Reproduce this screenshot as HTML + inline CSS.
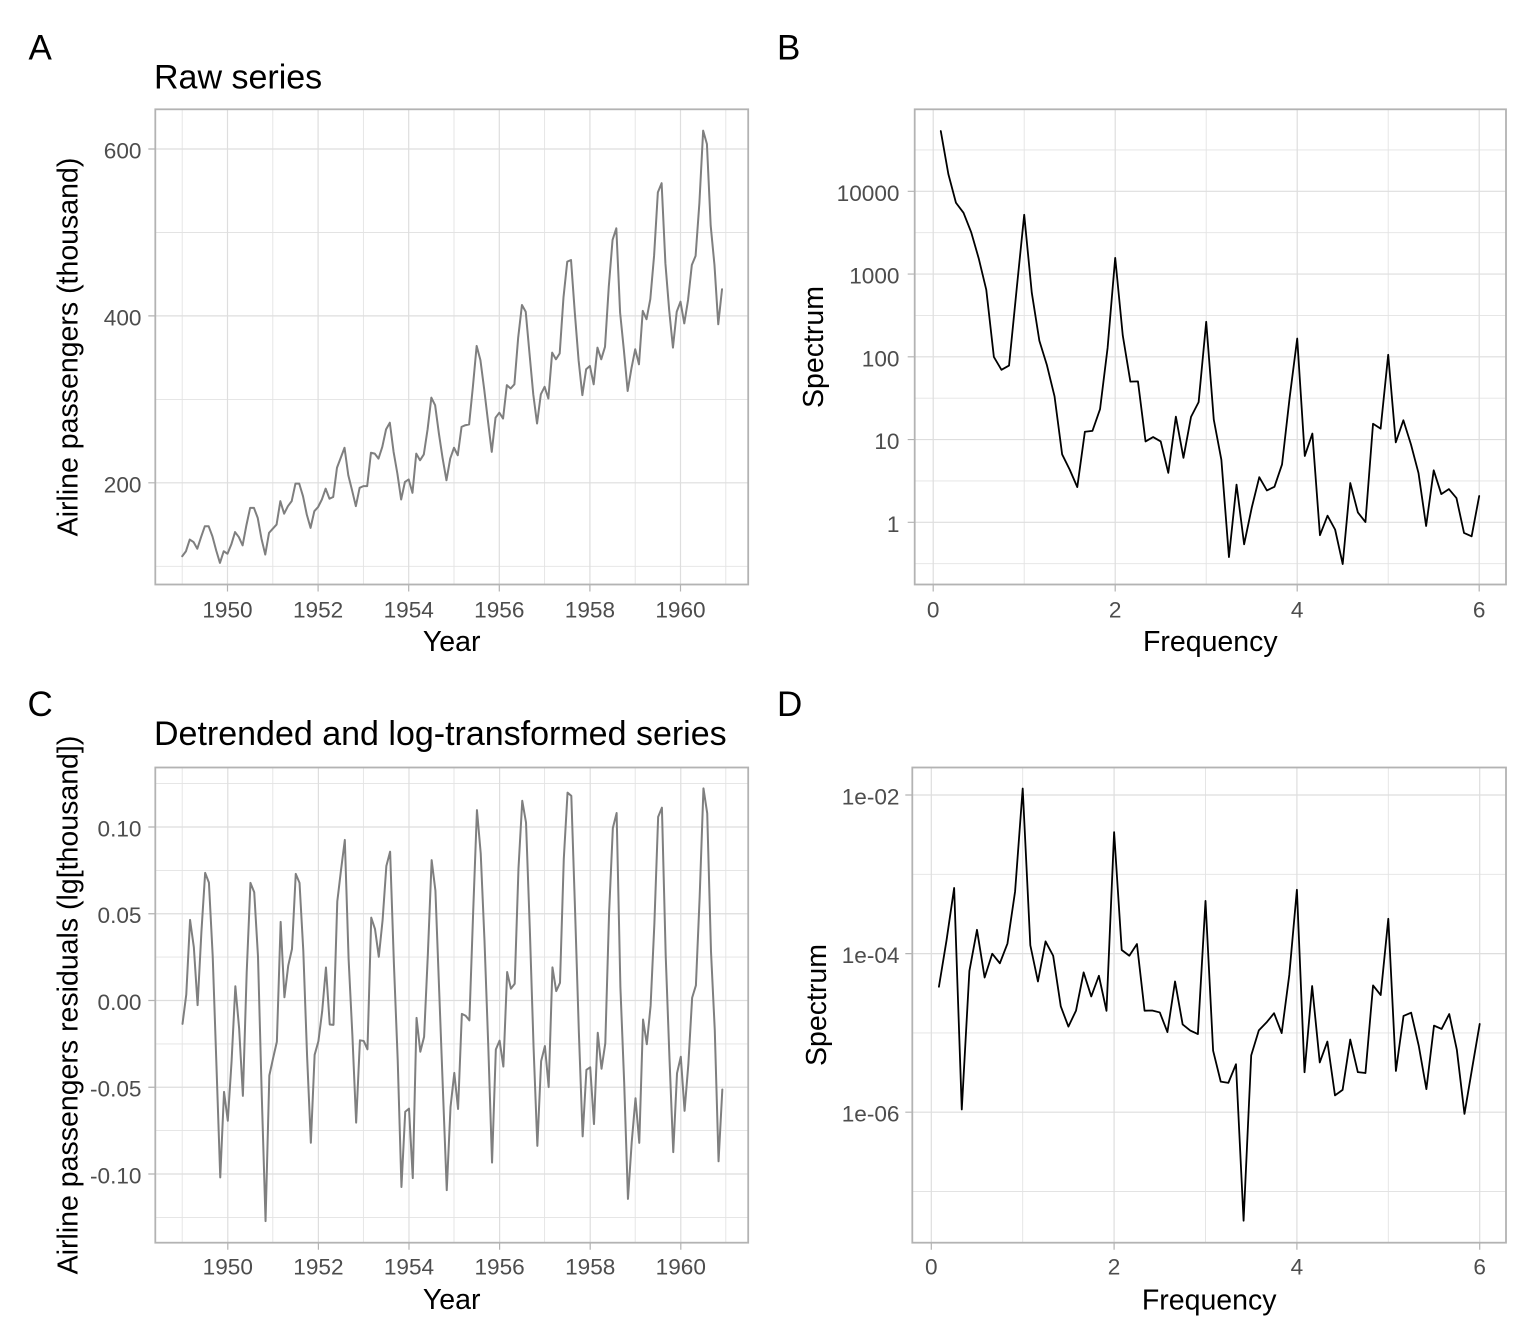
<!DOCTYPE html>
<html>
<head>
<meta charset="utf-8">
<style>
html,body{margin:0;padding:0;background:#fff;}
svg{display:block;}
text{font-family:"Liberation Sans",Arial,sans-serif;}
.tk{font-size:22.6px;fill:#4d4d4d;}
.at{font-size:28.5px;fill:#000;}
.tt{font-size:34px;fill:#000;}
.pl{font-size:35px;fill:#000;}
.gM{stroke:#dedede;stroke-width:1.2;fill:none;}
.gm{stroke:#e3e3e3;stroke-width:0.9;fill:none;}
.bd{stroke:#b3b3b3;stroke-width:1.8;fill:none;}
.tm{stroke:#b3b3b3;stroke-width:1.2;}
</style>
</head>
<body>
<svg id="s" width="1536" height="1344" viewBox="0 0 1536 1344" xmlns="http://www.w3.org/2000/svg">
<rect x="0" y="0" width="1536" height="1344" fill="#fff"/>

<!-- ================= Panel A ================= -->
<g>
<path class="gm" d="M182.2 109.3V584.5M272.8 109.3V584.5M363.4 109.3V584.5M454 109.3V584.5M544.6 109.3V584.5M635.2 109.3V584.5M725.8 109.3V584.5
M155.3 566.3H748.2M155.3 399.4H748.2M155.3 232.5H748.2"/>
<path class="gM" d="M227.5 109.3V584.5M318.1 109.3V584.5M408.7 109.3V584.5M499.3 109.3V584.5M589.9 109.3V584.5M680.5 109.3V584.5
M155.3 482.8H748.2M155.3 315.9H748.2M155.3 149H748.2"/>
<path id="pA" fill="none" stroke="#7f7f7f" stroke-width="2" stroke-linejoin="round" stroke-linecap="round" d=""/>
<rect class="bd" x="155.3" y="109.3" width="592.9" height="475.2"/>
<path class="tm" d="M148.3 482.8H155.3M148.3 315.9H155.3M148.3 149H155.3
M227.5 584.5V591.5M318.1 584.5V591.5M408.7 584.5V591.5M499.3 584.5V591.5M589.9 584.5V591.5M680.5 584.5V591.5"/>
<text class="tk" text-anchor="end" x="141.5" y="492.3">200</text>
<text class="tk" text-anchor="end" x="141.5" y="325.4">400</text>
<text class="tk" text-anchor="end" x="141.5" y="158.5">600</text>
<text class="tk" text-anchor="middle" x="227.5" y="617.5">1950</text>
<text class="tk" text-anchor="middle" x="318.1" y="617.5">1952</text>
<text class="tk" text-anchor="middle" x="408.7" y="617.5">1954</text>
<text class="tk" text-anchor="middle" x="499.3" y="617.5">1956</text>
<text class="tk" text-anchor="middle" x="589.9" y="617.5">1958</text>
<text class="tk" text-anchor="middle" x="680.5" y="617.5">1960</text>
<text class="at" text-anchor="middle" x="451.7" y="651">Year</text>
<text class="at" text-anchor="middle" transform="translate(77.5,347) rotate(-90)">Airline passengers (thousand)</text>
<text class="tt" x="154" y="88.3">Raw series</text>
<text class="pl" x="28.5" y="59.3">A</text>
</g>

<!-- ================= Panel B ================= -->
<g>
<path class="gm" d="M1024.2 109.3V584.5M1206.2 109.3V584.5M1388.2 109.3V584.5
M914.7 563.7H1506M914.7 480.9H1506M914.7 398.2H1506M914.7 315.4H1506M914.7 232.7H1506M914.7 149.9H1506"/>
<path class="gM" d="M933.2 109.3V584.5M1115.2 109.3V584.5M1297.2 109.3V584.5M1479.2 109.3V584.5
M914.7 522.3H1506M914.7 439.55H1506M914.7 356.8H1506M914.7 274.05H1506M914.7 191.3H1506"/>
<path id="pB" fill="none" stroke="#000" stroke-width="1.8" stroke-linejoin="round" stroke-linecap="round" d=""/>
<rect class="bd" x="914.7" y="109.3" width="591.3" height="475.2"/>
<path class="tm" d="M907.7 522.3H914.7M907.7 439.55H914.7M907.7 356.8H914.7M907.7 274.05H914.7M907.7 191.3H914.7
M933.2 584.5V591.5M1115.2 584.5V591.5M1297.2 584.5V591.5M1479.2 584.5V591.5"/>
<text class="tk" text-anchor="end" x="899.5" y="531.8">1</text>
<text class="tk" text-anchor="end" x="899.5" y="449">10</text>
<text class="tk" text-anchor="end" x="899.5" y="366.3">100</text>
<text class="tk" text-anchor="end" x="899.5" y="283.5">1000</text>
<text class="tk" text-anchor="end" x="899.5" y="200.8">10000</text>
<text class="tk" text-anchor="middle" x="933.2" y="617.5">0</text>
<text class="tk" text-anchor="middle" x="1115.2" y="617.5">2</text>
<text class="tk" text-anchor="middle" x="1297.2" y="617.5">4</text>
<text class="tk" text-anchor="middle" x="1479.2" y="617.5">6</text>
<text class="at" text-anchor="middle" x="1210.3" y="651">Frequency</text>
<text class="at" text-anchor="middle" transform="translate(823,347) rotate(-90)">Spectrum</text>
<text class="pl" x="777" y="59.3">B</text>
</g>

<!-- ================= Panel C ================= -->
<g>
<path class="gm" d="M182.2 767.5V1242.7M272.8 767.5V1242.7M363.4 767.5V1242.7M454 767.5V1242.7M544.6 767.5V1242.7M635.2 767.5V1242.7M725.8 767.5V1242.7
M155.3 783.6H748.2M155.3 870.4H748.2M155.3 957.1H748.2M155.3 1043.9H748.2M155.3 1130.6H748.2M155.3 1217.4H748.2"/>
<path class="gM" d="M227.8 767.5V1242.7M318.4 767.5V1242.7M409 767.5V1242.7M499.6 767.5V1242.7M590.2 767.5V1242.7M680.8 767.5V1242.7
M155.3 827H748.2M155.3 913.75H748.2M155.3 1000.5H748.2M155.3 1087.25H748.2M155.3 1174H748.2"/>
<path id="pC" fill="none" stroke="#7f7f7f" stroke-width="2" stroke-linejoin="round" stroke-linecap="round" d=""/>
<rect class="bd" x="155.3" y="767.5" width="592.9" height="475.2"/>
<path class="tm" d="M148.3 827H155.3M148.3 913.75H155.3M148.3 1000.5H155.3M148.3 1087.25H155.3M148.3 1174H155.3
M227.8 1242.7V1249.7M318.4 1242.7V1249.7M409 1242.7V1249.7M499.6 1242.7V1249.7M590.2 1242.7V1249.7M680.8 1242.7V1249.7"/>
<text class="tk" text-anchor="end" x="141.5" y="836.5">0.10</text>
<text class="tk" text-anchor="end" x="141.5" y="923.2">0.05</text>
<text class="tk" text-anchor="end" x="141.5" y="1010">0.00</text>
<text class="tk" text-anchor="end" x="141.5" y="1096.7">-0.05</text>
<text class="tk" text-anchor="end" x="141.5" y="1183.5">-0.10</text>
<text class="tk" text-anchor="middle" x="227.8" y="1274.7">1950</text>
<text class="tk" text-anchor="middle" x="318.4" y="1274.7">1952</text>
<text class="tk" text-anchor="middle" x="409" y="1274.7">1954</text>
<text class="tk" text-anchor="middle" x="499.6" y="1274.7">1956</text>
<text class="tk" text-anchor="middle" x="590.2" y="1274.7">1958</text>
<text class="tk" text-anchor="middle" x="680.8" y="1274.7">1960</text>
<text class="at" text-anchor="middle" x="451.7" y="1309.2">Year</text>
<text class="at" text-anchor="middle" transform="translate(77.5,1005) rotate(-90)">Airline passengers residuals (lg[thousand])</text>
<text class="tt" x="154" y="745">Detrended and log-transformed series</text>
<text class="pl" x="27.5" y="716">C</text>
</g>

<!-- ================= Panel D ================= -->
<g>
<path class="gm" d="M1022.7 767.5V1242.7M1205.5 767.5V1242.7M1388.3 767.5V1242.7
M912.3 874.3H1506M912.3 1032.9H1506M912.3 1191.5H1506"/>
<path class="gM" d="M931.3 767.5V1242.7M1114.1 767.5V1242.7M1296.9 767.5V1242.7M1479.7 767.5V1242.7
M912.3 795H1506M912.3 953.6H1506M912.3 1112.2H1506"/>
<path id="pD" fill="none" stroke="#000" stroke-width="1.8" stroke-linejoin="round" stroke-linecap="round" d=""/>
<rect class="bd" x="912.3" y="767.5" width="593.7" height="475.2"/>
<path class="tm" d="M905.3 795H912.3M905.3 953.6H912.3M905.3 1112.2H912.3
M931.3 1242.7V1249.7M1114.1 1242.7V1249.7M1296.9 1242.7V1249.7M1479.7 1242.7V1249.7"/>
<text class="tk" text-anchor="end" x="899.5" y="804.5">1e-02</text>
<text class="tk" text-anchor="end" x="899.5" y="963.1">1e-04</text>
<text class="tk" text-anchor="end" x="899.5" y="1121.7">1e-06</text>
<text class="tk" text-anchor="middle" x="931.3" y="1274.7">0</text>
<text class="tk" text-anchor="middle" x="1114.1" y="1274.7">2</text>
<text class="tk" text-anchor="middle" x="1296.9" y="1274.7">4</text>
<text class="tk" text-anchor="middle" x="1479.7" y="1274.7">6</text>
<text class="at" text-anchor="middle" x="1209.2" y="1309.3">Frequency</text>
<text class="at" text-anchor="middle" transform="translate(826,1005) rotate(-90)">Spectrum</text>
<text class="pl" x="777" y="716">D</text>
</g>
</svg>

<script>
(function(){
var AP=[112,118,132,129,121,135,148,148,136,119,104,118,
115,126,141,135,125,149,170,170,158,133,114,140,
145,150,178,163,172,178,199,199,184,162,146,166,
171,180,193,181,183,218,230,242,209,191,172,194,
196,196,236,235,229,243,264,272,237,211,180,201,
204,188,235,227,234,264,302,293,259,229,203,229,
242,233,267,269,270,315,364,347,312,274,237,278,
284,277,317,313,318,374,413,405,355,306,271,306,
315,301,356,348,355,422,465,467,404,347,305,336,
340,318,362,348,363,435,491,505,404,359,310,337,
360,342,406,396,420,472,548,559,463,407,362,405,
417,391,419,461,472,535,622,606,508,461,390,432];
var N=AP.length,i,k;
function f(v){return v.toFixed(2);}
function xA(t){return 227.5+(t-1950)*45.3;}
function xC(t){return 227.8+(t-1950)*45.3;}
var d="";
for(i=0;i<N;i++){var t=1949+i/12;d+=(i?"L":"M")+f(xA(t))+" "+f(149+(600-AP[i])*0.8345);}
document.getElementById("pA").setAttribute("d",d);
var L=AP.map(function(v){return Math.log(v)/Math.LN10;});
var S2=0,S4=0,Sy=0,Suy=0,Su2y=0;
for(i=0;i<N;i++){var u=i-(N-1)/2;S2+=u*u;S4+=u*u*u*u;Sy+=L[i];Suy+=u*L[i];Su2y+=u*u*L[i];}
var b=Suy/S2;var det=N*S4-S2*S2;var a=(Sy*S4-S2*Su2y)/det;var c=(N*Su2y-S2*Sy)/det;
var R=[];
for(i=0;i<N;i++){var u2=i-(N-1)/2;R.push(L[i]-(a+b*u2+c*u2*u2));}
d="";
for(i=0;i<N;i++){var t2=1949+i/12;d+=(i?"L":"M")+f(xC(t2))+" "+f(1000.5-R[i]*1735);}
document.getElementById("pC").setAttribute("d",d);
// mode: 2 = detrend, 1 = demean only, 0 = raw
function spec(x,mode){
  var n=x.length,mean=0,j;for(j=0;j<n;j++)mean+=x[j];mean/=n;
  var sumt2=n*(n*n-1)/12,sxt=0,tt=[];
  for(j=0;j<n;j++){tt[j]=j+1-(n+1)/2;sxt+=x[j]*tt[j];}
  var y=[];
  for(j=0;j<n;j++){
    if(mode===2)y[j]=x[j]-mean-sxt*tt[j]/sumt2;
    else if(mode===1)y[j]=x[j]-mean;
    else y[j]=x[j];
  }
  var m=Math.floor(n*0.1);
  for(j=1;j<=m;j++){var w=0.5*(1-Math.cos(Math.PI*(2*j-1)/(2*m)));y[j-1]*=w;y[n-j]*=w;}
  var out=[];
  for(k=1;k<=Math.floor(n/2);k++){
    var re=0,im=0;
    for(j=0;j<n;j++){var ang=2*Math.PI*k*j/n;re+=y[j]*Math.cos(ang);im-=y[j]*Math.sin(ang);}
    out.push((re*re+im*im)/(n*12)/0.875);
  }
  return out;
}
var sB=spec(AP,0);
d="";
for(k=0;k<sB.length;k++){var fr=(k+1)/12;d+=(k?"L":"M")+f(933.2+91*fr)+" "+f(522.3-Math.log(sB[k])/Math.LN10*82.75);}
document.getElementById("pB").setAttribute("d",d);
var sD=spec(R,2);
d="";
for(k=0;k<sD.length;k++){var fr2=(k+1)/12;d+=(k?"L":"M")+f(931.3+91.4*fr2)+" "+f(795-(Math.log(sD[k])/Math.LN10+2)*79.3);}
document.getElementById("pD").setAttribute("d",d);
})();
</script>
</body>
</html>
